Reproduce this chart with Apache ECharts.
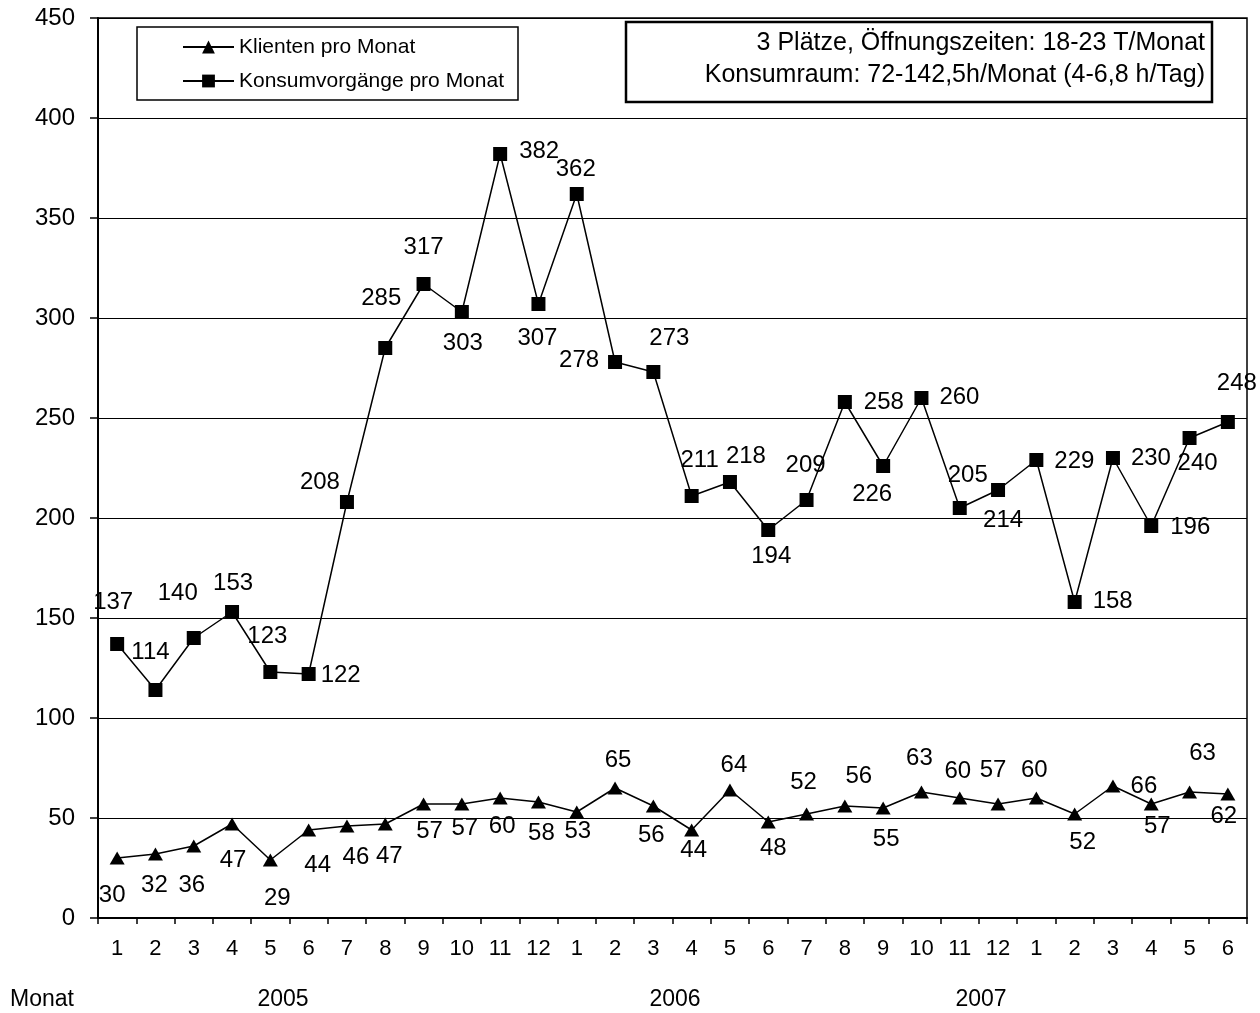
<!DOCTYPE html>
<html>
<head>
<meta charset="utf-8">
<script src="https://cdn.jsdelivr.net/npm/echarts@6/dist/echarts.min.js"></script>
<style>
  html, body { margin: 0; padding: 0; background: #fff; }
  #chart { width: 1260px; height: 1013px; }
</style>
</head>
<body>
<div id="chart"></div>
<script>
// Months from January 2005 to June 2007
const months = [
  '1','2','3','4','5','6','7','8','9','10','11','12',
  '1','2','3','4','5','6','7','8','9','10','11','12',
  '1','2','3','4','5','6'
];
const yearLabels = ['2005', '2006', '2007'];
const yTicks = [0, 50, 100, 150, 200, 250, 300, 350, 400, 450];

const clients = [30, 32, 36, 47, 29, 44, 46, 47, 57, 57, 60, 58,
                 53, 65, 56, 44, 64, 48, 52, 56, 55, 63, 60, 57,
                 60, 52, 66, 57, 63, 62];
const consumptions = [137, 114, 140, 153, 123, 122, 208, 285, 317, 303, 382, 307,
                      362, 278, 273, 211, 218, 194, 209, 258, 226, 260, 205, 214,
                      229, 158, 230, 196, 240, 248];

// Per-point label placement (pixel offsets from the marker centre)
const clientLabelOffsets = [
  [-5, 37], [-1, 31], [-2, 39], [1, 36], [7, 38], [9, 35], [9, 31], [4, 32], [6, 27], [3, 24], [2, 28], [3, 31],
  [1, 19], [3, -28], [-2, 29], [2, 20], [4, -25], [5, 26], [-3, -32], [14, -30], [3, 31], [-2, -34], [-2, -27], [-5, -34],
  [-2, -28], [8, 28], [31, 0], [6, 22], [13, -39], [-4, 22]
];
const consumptionLabelOffsets = [
  [-4, -42], [-5, -38], [-16, -45], [1, -29], [-3, -36], [32, 1], [-27, -20], [-4, -50], [0, -37], [1, 31], [39, -3], [-1, 34],
  [-1, -25], [-36, -2], [16, -34], [8, -36], [16, -26], [3, 26], [-1, -35], [39, 0], [-11, 28], [38, -1], [8, -33], [5, 30],
  [38, 1], [38, -1], [38, 0], [39, 1], [8, 25], [9, -39]
];

const FONT = '"Liberation Sans", Arial, sans-serif';

function withLabels(values, offsets) {
  return values.map((v, i) => ({
    value: v,
    label: { offset: offsets[i] }
  }));
}

const chart = echarts.init(document.getElementById('chart'), null, { renderer: 'canvas' });

const option = {
  animation: false,
  backgroundColor: '#ffffff',
  textStyle: { fontFamily: FONT, color: '#000' },
  grid: {
    left: 98, right: 13, top: 18, bottom: 95,
    show: true, borderColor: '#000', borderWidth: 1.5
  },
  legend: {
    orient: 'vertical',
    left: 182, top: 36,
    padding: 0,
    itemWidth: 51, itemHeight: 16,
    itemGap: 12,
    textStyle: { fontFamily: FONT, fontSize: 21, color: '#000', lineHeight: 22 },
    data: ['Klienten pro Monat', 'Konsumvorgänge pro Monat']
  },
  xAxis: {
    type: 'category',
    data: months,
    boundaryGap: true,
    axisLine: { lineStyle: { color: '#000', width: 2 } },
    axisTick: { show: true, interval: 0, length: 6, lineStyle: { color: '#000', width: 1.5 } },
    axisLabel: { interval: 0, fontFamily: FONT, fontSize: 22, color: '#000', margin: 20 },
    splitLine: { show: false }
  },
  yAxis: {
    type: 'value',
    min: yTicks[0], max: yTicks[yTicks.length - 1], interval: 50,
    axisLine: { show: true, lineStyle: { color: '#000', width: 2 } },
    axisTick: { show: true, length: 8, lineStyle: { color: '#000', width: 1.5 } },
    axisLabel: { fontFamily: FONT, fontSize: 24, color: '#000', margin: 23 },
    splitLine: { show: true, lineStyle: { color: '#000', width: 1.2 } }
  },
  series: [
    {
      name: 'Klienten pro Monat',
      type: 'line',
      data: withLabels(clients, clientLabelOffsets),
      symbol: 'triangle',
      symbolSize: [15, 13],
      itemStyle: { color: '#000' },
      lineStyle: { color: '#000', width: 1.5 },
      label: { show: true, position: 'inside', fontFamily: FONT, fontSize: 24, color: '#000' },
      z: 3
    },
    {
      name: 'Konsumvorgänge pro Monat',
      type: 'line',
      data: withLabels(consumptions, consumptionLabelOffsets),
      symbol: 'rect',
      symbolSize: 14,
      itemStyle: { color: '#000' },
      lineStyle: { color: '#000', width: 1.5 },
      label: { show: true, position: 'inside', fontFamily: FONT, fontSize: 24, color: '#000' },
      z: 3
    }
  ],
  graphic: [
    // legend frame
    {
      type: 'rect', z: 1, silent: true,
      shape: { x: 137, y: 27, width: 381, height: 73 },
      style: { fill: '#fff', stroke: '#000', lineWidth: 1.5 }
    },
    // info box
    {
      type: 'rect', z: 1, silent: true,
      shape: { x: 626, y: 22, width: 586, height: 80 },
      style: { fill: '#fff', stroke: '#000', lineWidth: 2.5 }
    },
    { type: 'text', z: 2, silent: true, x: 1205, y: 43,
      style: { text: '3 Plätze, Öffnungszeiten: 18-23 T/Monat', align: 'right', verticalAlign: 'middle',
               font: '25px ' + FONT, fill: '#000' } },
    { type: 'text', z: 2, silent: true, x: 1205, y: 75,
      style: { text: 'Konsumraum: 72-142,5h/Monat (4-6,8 h/Tag)', align: 'right', verticalAlign: 'middle',
               font: '25px ' + FONT, fill: '#000' } },
    // bottom captions
    { type: 'text', z: 2, silent: true, x: 42, y: 1000,
      style: { text: 'Monat', align: 'center', verticalAlign: 'middle', font: '23px ' + FONT, fill: '#000' } },
    { type: 'text', z: 2, silent: true, x: 283, y: 1000,
      style: { text: yearLabels[0], align: 'center', verticalAlign: 'middle', font: '23px ' + FONT, fill: '#000' } },
    { type: 'text', z: 2, silent: true, x: 675, y: 1000,
      style: { text: yearLabels[1], align: 'center', verticalAlign: 'middle', font: '23px ' + FONT, fill: '#000' } },
    { type: 'text', z: 2, silent: true, x: 981, y: 1000,
      style: { text: yearLabels[2], align: 'center', verticalAlign: 'middle', font: '23px ' + FONT, fill: '#000' } }
  ]
};

chart.setOption(option);
</script>
</body>
</html>
